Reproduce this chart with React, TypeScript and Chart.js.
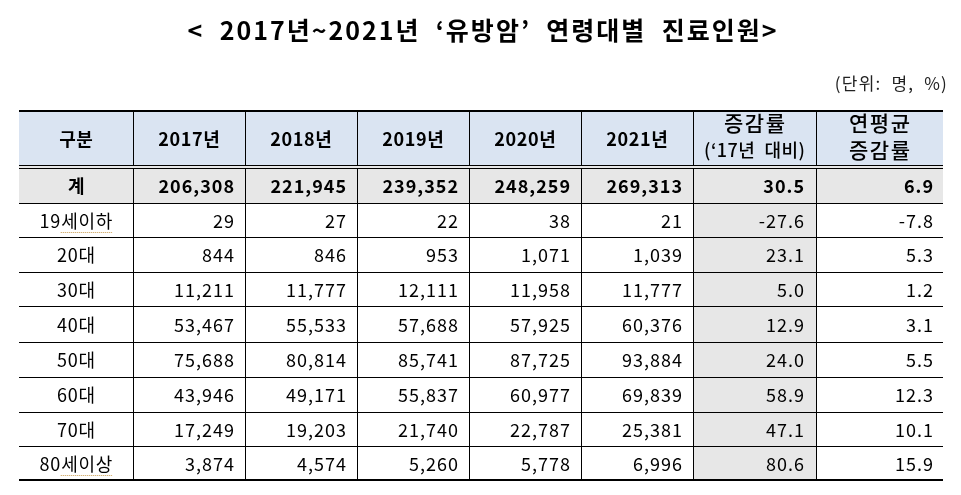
import React, { useEffect, useRef } from "react";
import { Chart, registerables } from "chart.js";

Chart.register(...registerables);

// ---------- data ----------
const titleText = "<  2017년~2021년  ‘유방암’  연령대별  진료인원>";
const unitText = "(단위:  명,  %)";
const headers = ["구분", "2017년", "2018년", "2019년", "2020년", "2021년", "증감률\n(‘17년  대비)", "연평균\n증감률"];
const ageGroups = ["계", "19세이하", "20대", "30대", "40대", "50대", "60대", "70대", "80세이상"];
const y2017 = [206308, 29, 844, 11211, 53467, 75688, 43946, 17249, 3874];
const y2018 = [221945, 27, 846, 11777, 55533, 80814, 49171, 19203, 4574];
const y2019 = [239352, 22, 953, 12111, 57688, 85741, 55837, 21740, 5260];
const y2020 = [248259, 38, 1071, 11958, 57925, 87725, 60977, 22787, 5778];
const y2021 = [269313, 21, 1039, 11777, 60376, 93884, 69839, 25381, 6996];
const changeRate = [30.5, -27.6, 23.1, 5.0, 12.9, 24.0, 58.9, 47.1, 80.6];
const annualRate = [6.9, -7.8, 5.3, 1.2, 3.1, 5.5, 12.3, 10.1, 15.9];

// ---------- layout (sizes in scale units) ----------
const colWidths = [114, 112, 112, 112, 112, 112, 123, 127];
const headerHeight = 57;
const rowHeights = [36, 34, 35, 34, 36, 35, 35, 34, 34];

const FONT = '"Noto Sans CJK KR", "Noto Sans", sans-serif';
const HEADER_BG = "#dae4f2";
const GRAY_BG = "#e7e7e7";

const fmtInt = (v: number) => v.toLocaleString("en-US");
const fmtPct = (v: number) => v.toFixed(1);

const tablePlugin = {
  id: "tablePlugin",
  afterDraw(chart: any) {
    const ctx: any = chart.ctx;
    const xs = chart.scales.x;
    const ys = chart.scales.y;
    const colEdges: number[] = [0];
    colWidths.forEach((w) => colEdges.push(colEdges[colEdges.length - 1] + w));
    const rowEdges: number[] = [0, headerHeight];
    rowHeights.forEach((h) => rowEdges.push(rowEdges[rowEdges.length - 1] + h));
    const X = (v: number) => xs.getPixelForValue(v);
    const Y = (v: number) => ys.getPixelForValue(v);
    const left = X(0);
    const right = X(colEdges[colEdges.length - 1]);
    const top = Y(0);
    const bottom = Y(rowEdges[rowEdges.length - 1]);

    const setSpacing = (px: number) => {
      ctx.letterSpacing = `${px}px`;
    };

    ctx.save();
    // title
    ctx.fillStyle = "#000";
    ctx.textAlign = "center";
    ctx.textBaseline = "middle";
    ctx.font = `bold 25px ${FONT}`;
    setSpacing(2);
    ctx.fillText(titleText, (left + right) / 2 + 2, 30);
    // unit
    ctx.font = `17px ${FONT}`;
    setSpacing(1.2);
    ctx.fillStyle = "#222";
    ctx.textAlign = "right";
    ctx.fillText(unitText, right + 5, 84);

    // backgrounds
    ctx.fillStyle = HEADER_BG;
    ctx.fillRect(left, top, right - left, Y(rowEdges[1]) - top);
    ctx.fillStyle = GRAY_BG;
    ctx.fillRect(left, Y(rowEdges[1]), right - left, Y(rowEdges[2]) - Y(rowEdges[1]));
    ctx.fillRect(X(colEdges[6]), Y(rowEdges[2]), X(colEdges[7]) - X(colEdges[6]), bottom - Y(rowEdges[2]));

    // lines
    ctx.strokeStyle = "#000";
    const hline = (y: number, w: number) => {
      ctx.lineWidth = w;
      ctx.beginPath();
      ctx.moveTo(left, y);
      ctx.lineTo(right, y);
      ctx.stroke();
    };
    for (let i = 1; i < colEdges.length - 1; i++) {
      const x = Math.round(X(colEdges[i])) + 0.5;
      ctx.lineWidth = 1;
      ctx.beginPath();
      ctx.moveTo(x, top);
      ctx.lineTo(x, bottom);
      ctx.stroke();
    }
    for (let i = 2; i < rowEdges.length - 1; i++) hline(Math.round(Y(rowEdges[i])) + 0.5, 1);
    const hb = Math.round(Y(rowEdges[1]));
    ctx.fillStyle = GRAY_BG;
    ctx.fillRect(left, hb - 1, right - left, 2);
    hline(hb - 1.5, 1);
    hline(hb + 1.5, 1);
    hline(Math.round(top) + 1, 2);
    hline(Math.round(bottom), 2);

    // header text
    ctx.fillStyle = "#000";
    ctx.textAlign = "center";
    ctx.textBaseline = "middle";
    headers.forEach((h, c) => {
      const cx = (X(colEdges[c]) + X(colEdges[c + 1])) / 2;
      const cy = (Y(rowEdges[0]) + Y(rowEdges[1])) / 2;
      const lines = h.split("\n");
      if (lines.length === 1) {
        ctx.font = `bold 18px ${FONT}`;
        setSpacing(0.6);
        ctx.fillText(h, cx + 0.3, cy + 1);
      } else {
        ctx.font = `500 21px ${FONT}`;
        setSpacing(1.5);
        ctx.fillText(lines[0], cx + 0.75, cy - 15);
        const small = lines[1].includes("(");
        ctx.font = small ? `500 18px ${FONT}` : `500 21px ${FONT}`;
        setSpacing(small ? 0.5 : 1.5);
        ctx.fillText(lines[1], cx + (small ? 0.25 : 0.75), cy + 12);
      }
    });

    // body
    const series = [y2017, y2018, y2019, y2020, y2021];
    ageGroups.forEach((g, r) => {
      const bold = r === 0;
      const cy = (Y(rowEdges[r + 1]) + Y(rowEdges[r + 2])) / 2 + 1;
      ctx.font = `${bold ? "bold " : ""}18px ${FONT}`;
      ctx.fillStyle = "#000";
      ctx.textAlign = "center";
      setSpacing(bold ? 0 : 0.8);
      const cx = (X(colEdges[0]) + X(colEdges[1])) / 2;
      ctx.fillText(g, cx + 0.4, cy);
      if (g.includes("세")) {
        const full = ctx.measureText(g).width;
        const pre = ctx.measureText(g.replace(/[^0-9]/g, "")).width;
        const sx = cx - full / 2 + pre;
        const ex = cx + full / 2;
        ctx.save();
        ctx.strokeStyle = "#c99a4a";
        ctx.lineWidth = 1;
        ctx.setLineDash([1, 1]);
        ctx.beginPath();
        ctx.moveTo(sx, cy + 11.5);
        ctx.lineTo(ex, cy + 11.5);
        ctx.stroke();
        ctx.restore();
      }
      ctx.textAlign = "right";
      setSpacing(1);
      series.forEach((s, i) => {
        ctx.fillText(fmtInt(s[r]), X(colEdges[i + 2]) - 10, cy);
      });
      ctx.fillText(fmtPct(changeRate[r]), X(colEdges[7]) - 11, cy);
      ctx.fillText(fmtPct(annualRate[r]), X(colEdges[8]) - 9, cy);
    });
    ctx.restore();
  },
};

export default function App() {
  const ref = useRef<HTMLCanvasElement | null>(null);
  useEffect(() => {
    if (!ref.current) return;
    const totalW = colWidths.reduce((a, b) => a + b, 0);
    const totalH = headerHeight + rowHeights.reduce((a, b) => a + b, 0);
    const chart = new Chart(ref.current, {
      type: "scatter",
      data: { datasets: [{ data: [], pointRadius: 0 }] },
      options: {
        animation: false,
        responsive: false,
        layout: { padding: { left: 19, right: 18, top: 110, bottom: 15 } },
        plugins: { legend: { display: false }, tooltip: { enabled: false }, title: { display: false } },
        scales: {
          x: { type: "linear", min: 0, max: totalW, display: false },
          y: { type: "linear", min: 0, max: totalH, reverse: true, display: false },
        },
      },
      plugins: [tablePlugin],
    });
    return () => chart.destroy();
  }, []);
  return (
    <div style={{ position: "fixed", left: 0, top: 0, width: 961, height: 495, background: "#fff" }}>
      <canvas ref={ref} width={961} height={495} style={{ width: 961, height: 495 }} />
    </div>
  );
}
